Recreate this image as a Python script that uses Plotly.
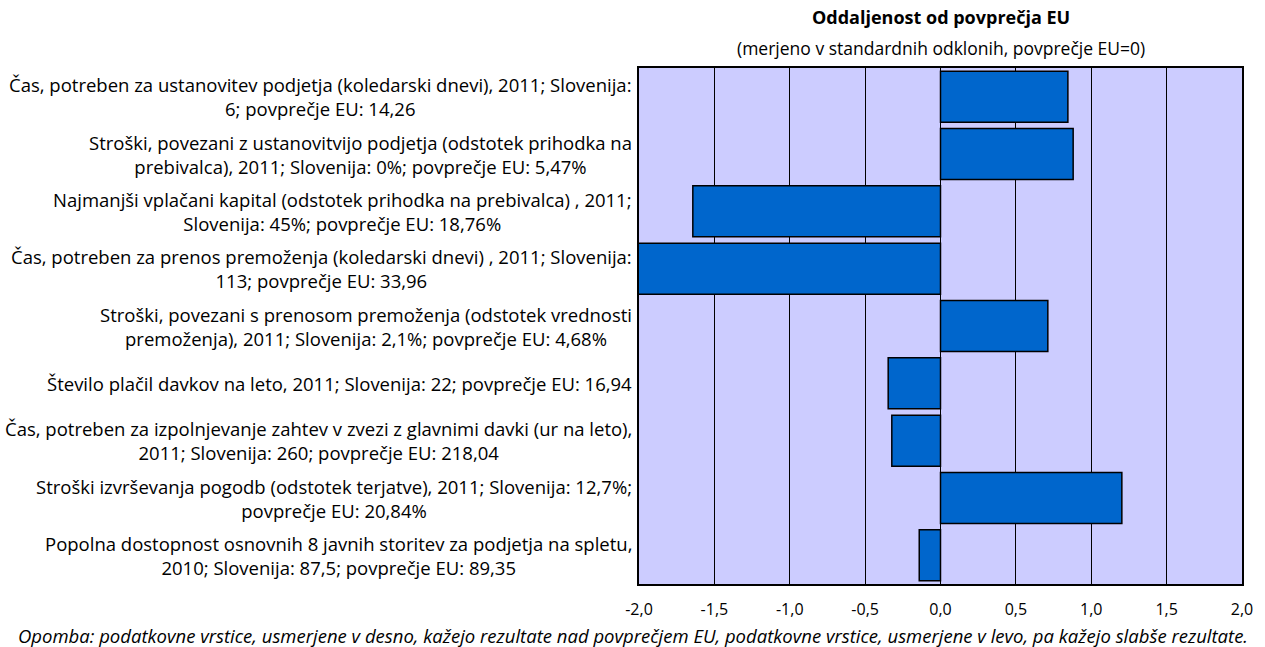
import plotly.graph_objects as go

labels = [
    "Čas, potreben za ustanovitev podjetja (koledarski dnevi), 2011; Slovenija:<br>6; povprečje EU: 14,26",
    "Stroški, povezani z ustanovitvijo podjetja (odstotek prihodka na<br>prebivalca), 2011; Slovenija: 0%; povprečje EU: 5,47%",
    "Najmanjši vplačani kapital (odstotek prihodka na prebivalca) , 2011;<br>Slovenija: 45%; povprečje EU: 18,76%",
    "Čas, potreben za prenos premoženja (koledarski dnevi) , 2011; Slovenija:<br>113; povprečje EU: 33,96",
    "Stroški, povezani s prenosom premoženja (odstotek vrednosti<br>premoženja), 2011; Slovenija: 2,1%; povprečje EU: 4,68%",
    "Število plačil davkov na leto, 2011; Slovenija: 22; povprečje EU: 16,94",
    "Čas, potreben za izpolnjevanje zahtev v zvezi z glavnimi davki (ur na leto),<br>2011; Slovenija: 260; povprečje EU: 218,04",
    "Stroški izvrševanja pogodb (odstotek terjatve), 2011; Slovenija: 12,7%;<br>povprečje EU: 20,84%",
    "Popolna dostopnost osnovnih 8 javnih storitev za podjetja na spletu,<br>2010; Slovenija: 87,5; povprečje EU: 89,35",
]
values = [0.845, 0.88, -1.643, -2.2, 0.712, -0.347, -0.323, 1.203, -0.141]
x_ticks = [-2.0, -1.5, -1.0, -0.5, 0.0, 0.5, 1.0, 1.5, 2.0]
x_ticktext = ["-2,0", "-1,5", "-1,0", "-0,5", "0,0", "0,5", "1,0", "1,5", "2,0"]

title = "Oddaljenost od povprečja EU"
subtitle = "(merjeno v standardnih odklonih, povprečje EU=0)"
note = "Opomba: podatkovne vrstice, usmerjene v desno, kažejo rezultate nad povprečjem EU, podatkovne vrstice, usmerjene v levo, pa kažejo slabše rezultate."

FONT = "Open Sans"
ids = list(range(len(labels)))

W, H = 1265, 647
ML, MR, MT, MB = 639, 19, 68, 63
PW = W - ML - MR

fig = go.Figure()
fig.add_trace(go.Bar(
    y=ids, x=values, orientation="h",
    marker=dict(color="#0066CC", line=dict(color="#000000", width=1.5)),
    hoverinfo="x",
))

for i, lab in zip(ids, labels):
    fig.add_annotation(
        x=0, xref="paper", xanchor="right", xshift=-5,
        y=i, yref="y", yanchor="middle",
        text=lab, showarrow=False, align="center",
        font=dict(family=FONT, size=18.5, color="#000000"),
    )

fig.add_annotation(x=0.5, xref="paper", y=1, yref="paper", yshift=37, yanchor="bottom",
                   text="<b>" + title + "</b>", showarrow=False,
                   font=dict(family=FONT, size=18, color="#000000"))
fig.add_annotation(x=0.5, xref="paper", y=1, yref="paper", yshift=6, yanchor="bottom",
                   text=subtitle, showarrow=False,
                   font=dict(family=FONT, size=17.5, color="#000000"))
fig.add_annotation(x=(W / 2 - ML) / PW, xref="paper", xanchor="center",
                   y=0, yref="paper", yshift=-37, yanchor="top",
                   text="<i>" + note + "</i>", showarrow=False,
                   font=dict(family=FONT, size=18.5, color="#000000"))

fig.update_layout(
    width=W, height=H,
    margin=dict(l=ML, r=MR, t=MT, b=MB),
    paper_bgcolor="#FFFFFF", plot_bgcolor="#CCCCFF",
    bargap=0.11, showlegend=False,
    font=dict(family=FONT, size=15, color="#000000"),
)
fig.update_xaxes(
    range=[-2, 2], tickvals=x_ticks, ticktext=x_ticktext,
    showgrid=True, gridcolor="#000000", gridwidth=1,
    zeroline=False, showline=True, linecolor="#000000", linewidth=1.5, mirror=True,
    ticks="", ticklen=0, ticklabelstandoff=10, tickfont=dict(family=FONT, size=16),
)
fig.update_yaxes(
    range=[len(labels) - 0.5, -0.5], showticklabels=False, showgrid=False,
    zeroline=False, showline=True, linecolor="#000000", linewidth=1.5, mirror=True,
    ticks="",
)

fig.write_html("out.html", config={"displayModeBar": False},
               post_script="document.body.style.margin='0';")
